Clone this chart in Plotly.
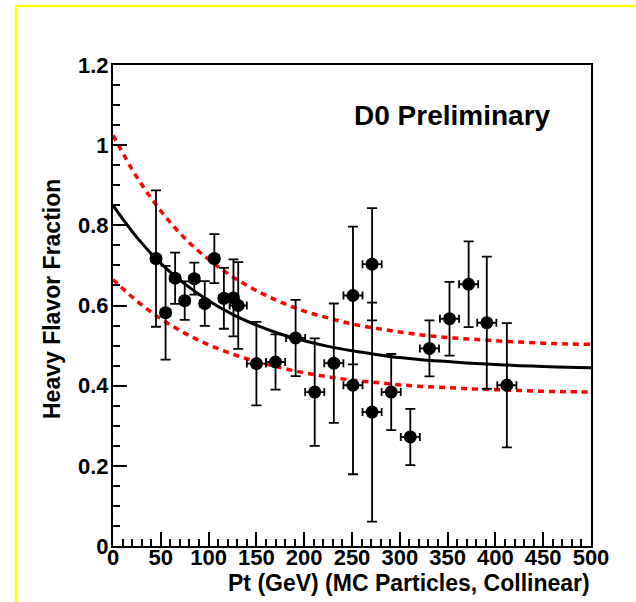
import plotly.graph_objects as go

# ---- data ----
pt = [45, 55, 65, 75, 85, 96, 106, 116, 126, 131, 150, 170, 191, 211, 231,
      251, 251, 271, 271, 291, 311, 331, 352, 372, 391, 412]
pt_err = [5, 5, 5, 5, 5, 5, 5, 5, 5, 9, 10, 10, 10, 10, 10,
          10, 10, 10, 10, 10, 10, 10, 10, 10, 10, 10]
hf_frac = [0.717, 0.582, 0.668, 0.612, 0.667, 0.605, 0.717, 0.618, 0.619, 0.600,
           0.455, 0.459, 0.519, 0.384, 0.456, 0.625, 0.401, 0.703, 0.334, 0.384,
           0.272, 0.493, 0.567, 0.653, 0.557, 0.401]
hf_err = [0.170, 0.117, 0.064, 0.048, 0.040, 0.056, 0.061, 0.076, 0.096, 0.108,
          0.104, 0.069, 0.095, 0.134, 0.149, 0.172, 0.222, 0.140, 0.273, 0.095,
          0.070, 0.070, 0.092, 0.107, 0.165, 0.155]

curve_x = [0, 25, 50, 75, 100, 125, 150, 175, 200, 225, 250, 275, 300, 325,
           350, 375, 400, 425, 450, 475, 500]
fit_y = [0.850, 0.770, 0.705, 0.654, 0.612, 0.578, 0.551, 0.529, 0.512, 0.498,
         0.487, 0.478, 0.470, 0.464, 0.460, 0.456, 0.453, 0.450, 0.448, 0.446, 0.445]
band_hi = [1.025, 0.920, 0.836, 0.768, 0.715, 0.672, 0.637, 0.609, 0.586, 0.569,
           0.554, 0.543, 0.534, 0.526, 0.520, 0.516, 0.512, 0.509, 0.506, 0.504, 0.503]
band_lo = [0.665, 0.611, 0.567, 0.531, 0.502, 0.479, 0.460, 0.445, 0.432, 0.422,
           0.414, 0.408, 0.402, 0.398, 0.395, 0.392, 0.390, 0.388, 0.386, 0.385, 0.384]

x_ticks = [0, 50, 100, 150, 200, 250, 300, 350, 400, 450, 500]
y_ticks = [0, 0.2, 0.4, 0.6, 0.8, 1.0, 1.2]
y_tick_text = ["0", "0.2", "0.4", "0.6", "0.8", "1", "1.2"]

W, H = 636, 602
L, R, T, B = 113, 45, 65, 56
PW, PH = W - L - R, H - T - B
FONT = "Liberation Sans, Arial, sans-serif"


def px(xp):
    return (xp - L) / PW


def py(yp):
    return (H - B - yp) / PH


fig = go.Figure()

for band in (band_hi, band_lo):
    fig.add_trace(go.Scatter(x=curve_x, y=band, mode="lines", line_shape="spline",
                             line=dict(color="#ff0000", width=3.5, dash="6px,5px"),
                             hoverinfo="skip", showlegend=False))
fig.add_trace(go.Scatter(x=curve_x, y=fit_y, mode="lines", line_shape="spline",
                         line=dict(color="black", width=3),
                         hoverinfo="skip", showlegend=False))

fig.add_trace(go.Scatter(
    x=pt, y=hf_frac, mode="markers",
    marker=dict(color="black", size=13, symbol="circle"),
    error_y=dict(type="data", array=hf_err, visible=True, color="black",
                 thickness=1.8, width=5),
    error_x=dict(type="data", array=pt_err, visible=True, color="black",
                 thickness=1.8, width=4),
    showlegend=False))

axis_common = dict(
    showline=True, linecolor="black", linewidth=2, mirror=True,
    ticks="inside", tickcolor="black", tickwidth=1.5, showgrid=False,
    zeroline=False,
    tickfont=dict(family=FONT, size=22, color="black", weight="bold"),
)

fig.update_xaxes(range=[0, 500], tickvals=x_ticks, ticklen=14,
                 ticklabelstandoff=-9,
                 minor=dict(dtick=10, tick0=0, ticks="inside", ticklen=7,
                            tickcolor="black", tickwidth=1.5, showgrid=False),
                 **axis_common)
fig.update_yaxes(range=[0, 1.2], tickvals=y_ticks, ticktext=y_tick_text, ticklen=14,
                 ticklabelstandoff=-2,
                 minor=dict(dtick=0.05, tick0=0, ticks="inside", ticklen=7,
                            tickcolor="black", tickwidth=1.5, showgrid=False),
                 **axis_common)

fig.add_annotation(text="D0 Preliminary", xref="paper", yref="paper",
                   x=px(452), y=py(115), xanchor="center", yanchor="middle",
                   showarrow=False,
                   font=dict(family=FONT, size=28, color="black", weight="bold"))
fig.add_annotation(text="Pt (GeV) (MC Particles, Collinear)", xref="paper", yref="paper",
                   x=px(592), y=py(583), xanchor="right", yanchor="middle",
                   showarrow=False,
                   font=dict(family=FONT, size=23, color="black", weight="bold"))
fig.add_annotation(text="Heavy Flavor Fraction", xref="paper", yref="paper",
                   x=px(52), y=py(299), xanchor="center", yanchor="middle",
                   textangle=-90, showarrow=False,
                   font=dict(family=FONT, size=23, color="black", weight="bold"))

# yellow frame lines at top and left of the canvas
fig.add_shape(type="line", xref="paper", yref="paper",
              x0=px(16), y0=py(606), x1=px(16), y1=py(6),
              line=dict(color="#ffff00", width=2.5))
fig.add_shape(type="line", xref="paper", yref="paper",
              x0=px(15), y0=py(6), x1=px(640), y1=py(6),
              line=dict(color="#ffff00", width=2.5))

fig.update_layout(
    width=W, height=H,
    margin=dict(l=L, r=R, t=T, b=B),
    paper_bgcolor="white", plot_bgcolor="white",
    showlegend=False,
)

fig.write_html("out.html")
